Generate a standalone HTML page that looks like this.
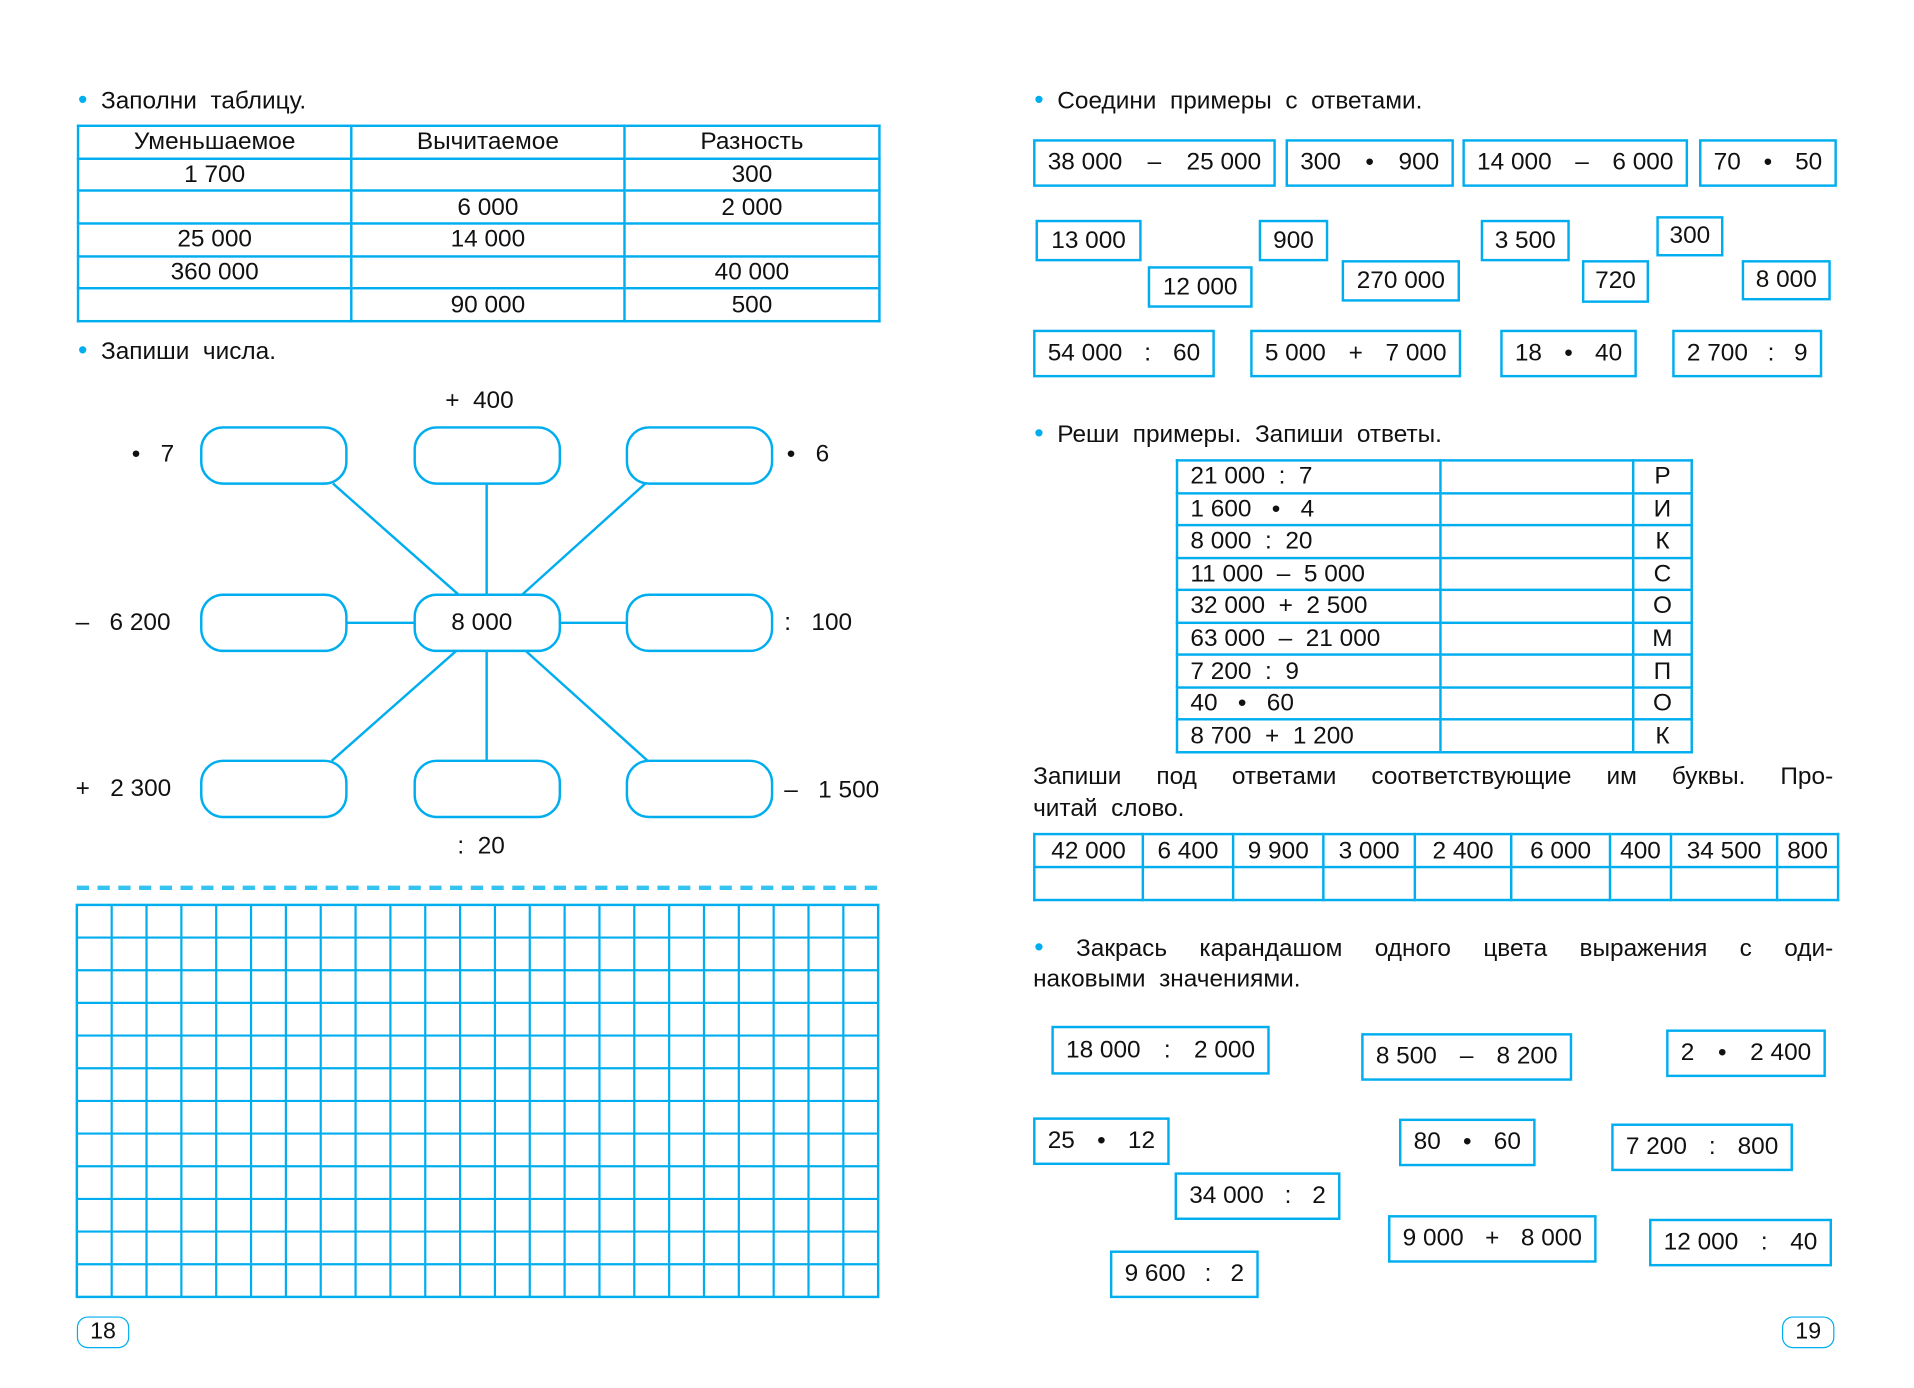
<!DOCTYPE html>
<html><head><meta charset="utf-8">
<style>
html,body{margin:0;padding:0;background:#fff;}
body{width:1914px;height:1388px;overflow:hidden;position:relative;}
#c{position:absolute;left:0;top:0;width:1560px;height:1131px;transform:scale(1.2197,1.2212);transform-origin:0 0;font-family:"Liberation Sans",sans-serif;color:#111;font-size:20px;}
.t{position:absolute;white-space:nowrap;line-height:1;transform:translateY(-50%);}
.bul{color:#00aeef;font-size:22px;}
.b{position:absolute;border:2px solid #00aeef;box-sizing:border-box;display:flex;align-items:center;justify-content:space-between;padding:0 10px;font-size:20px;white-space:nowrap;}
.bc{justify-content:center;}
table{position:absolute;border-collapse:collapse;font-size:20px;table-layout:fixed;}
td{border:2px solid #00aeef;padding:0;line-height:1;white-space:nowrap;}
.pg{position:absolute;border:1.5px solid #00aeef;border-radius:9px;box-sizing:border-box;display:flex;align-items:center;justify-content:center;font-size:19px;}
</style></head><body><div id="c">

<!-- LEFT PAGE -->
<div class="t" style="left:64px;top:82px;"><span class="bul">•</span>&nbsp; Заполни&nbsp; таблицу.</div>
<table style="left:63px;top:102px;width:657px;height:162px;text-align:center;">
<colgroup><col style="width:224px"><col style="width:224px"><col style="width:209px"></colgroup>
<tr><td>Уменьшаемое</td><td>Вычитаемое</td><td>Разность</td></tr>
<tr><td>1 700</td><td></td><td>300</td></tr>
<tr><td></td><td>6 000</td><td>2 000</td></tr>
<tr><td>25 000</td><td>14 000</td><td></td></tr>
<tr><td>360 000</td><td></td><td>40 000</td></tr>
<tr><td></td><td>90 000</td><td>500</td></tr>
</table>
<div class="t" style="left:64px;top:287px;"><span class="bul">•</span>&nbsp; Запиши&nbsp; числа.</div>

<svg style="position:absolute;left:0;top:0" width="780" height="1131">
<g stroke="#00aeef" stroke-width="2" fill="none">
<line x1="273" y1="396" x2="376" y2="487"/>
<line x1="399" y1="396" x2="399" y2="487"/>
<line x1="529" y1="396" x2="428" y2="487"/>
<line x1="284" y1="510" x2="340" y2="510"/>
<line x1="459" y1="510" x2="514" y2="510"/>
<line x1="374" y1="533" x2="272" y2="623"/>
<line x1="399" y1="533" x2="399" y2="623"/>
<line x1="431" y1="533" x2="531" y2="623"/>
<rect x="165" y="350" width="119" height="46" rx="18"/>
<rect x="340" y="350" width="119" height="46" rx="18"/>
<rect x="514" y="350" width="119" height="46" rx="18"/>
<rect x="165" y="487" width="119" height="46" rx="18"/>
<rect x="340" y="487" width="119" height="46" rx="18" fill="#fff"/>
<rect x="514" y="487" width="119" height="46" rx="18"/>
<rect x="165" y="623" width="119" height="46" rx="18"/>
<rect x="340" y="623" width="119" height="46" rx="18"/>
<rect x="514" y="623" width="119" height="46" rx="18"/>
<line x1="63" y1="727" x2="720" y2="727" stroke-width="3.5" stroke-dasharray="10,7" stroke="#33c3f0"/>
</g>
<g stroke="#00aeef" stroke-width="2">
<rect x="63" y="741" width="657" height="321" fill="none"/>
</g>
<g id="grid" stroke="#00aeef" stroke-width="1.8"></g>
</svg>
<div class="t" style="left:370px;top:510px;font-size:20px;">8 000</div>
<div class="t" style="left:365px;top:328px;">+&nbsp; 400</div>
<div class="t" style="left:108px;top:372px;">•&nbsp;&nbsp; 7</div>
<div class="t" style="left:645px;top:372px;">•&nbsp;&nbsp; 6</div>
<div class="t" style="left:62px;top:510px;">–&nbsp;&nbsp; 6 200</div>
<div class="t" style="left:643px;top:510px;">:&nbsp;&nbsp; 100</div>
<div class="t" style="left:62px;top:646px;">+&nbsp;&nbsp; 2 300</div>
<div class="t" style="left:643px;top:647px;">–&nbsp;&nbsp; 1 500</div>
<div class="t" style="left:375px;top:693px;">:&nbsp; 20</div>
<div class="pg" style="left:63px;top:1078px;width:43px;height:26px;">18</div>

<!-- RIGHT PAGE -->
<div class="t" style="left:848px;top:82px;"><span class="bul">•</span>&nbsp; Соедини&nbsp; примеры&nbsp; с&nbsp; ответами.</div>
<div class="b" style="left:847px;top:114px;width:199px;height:39px;"><span>38 000</span><span>–</span><span>25 000</span></div>
<div class="b" style="left:1054px;top:114px;width:138px;height:39px;"><span>300</span><span>•</span><span>900</span></div>
<div class="b" style="left:1199px;top:114px;width:185px;height:39px;"><span>14 000</span><span>–</span><span>6 000</span></div>
<div class="b" style="left:1393px;top:114px;width:113px;height:39px;"><span>70</span><span>•</span><span>50</span></div>
<div class="b bc" style="left:849px;top:180px;width:87px;height:34px;">13 000</div>
<div class="b bc" style="left:1032px;top:180px;width:57px;height:34px;">900</div>
<div class="b bc" style="left:1214px;top:180px;width:73px;height:34px;">3 500</div>
<div class="b bc" style="left:1358px;top:177px;width:55px;height:33px;">300</div>
<div class="b bc" style="left:941px;top:218px;width:86px;height:34px;">12 000</div>
<div class="b bc" style="left:1100px;top:213px;width:97px;height:34px;">270 000</div>
<div class="b bc" style="left:1297px;top:213px;width:55px;height:35px;">720</div>
<div class="b bc" style="left:1428px;top:213px;width:73px;height:33px;">8 000</div>
<div class="b" style="left:847px;top:270px;width:149px;height:39px;"><span>54 000</span><span>:</span><span>60</span></div>
<div class="b" style="left:1025px;top:270px;width:173px;height:39px;"><span>5 000</span><span>+</span><span>7 000</span></div>
<div class="b" style="left:1230px;top:270px;width:112px;height:39px;"><span>18</span><span>•</span><span>40</span></div>
<div class="b" style="left:1371px;top:270px;width:123px;height:39px;"><span>2 700</span><span>:</span><span>9</span></div>

<div class="t" style="left:848px;top:355px;"><span class="bul">•</span>&nbsp; Реши&nbsp; примеры.&nbsp; Запиши&nbsp; ответы.</div>
<table style="left:964px;top:376px;width:422px;height:241px;">
<colgroup><col style="width:216px"><col style="width:158px"><col style="width:48px"></colgroup>
<tr><td style="padding-left:10px">21 000&nbsp; :&nbsp; 7</td><td></td><td style="text-align:center">Р</td></tr>
<tr><td style="padding-left:10px">1 600&nbsp;&nbsp; •&nbsp;&nbsp; 4</td><td></td><td style="text-align:center">И</td></tr>
<tr><td style="padding-left:10px">8 000&nbsp; :&nbsp; 20</td><td></td><td style="text-align:center">К</td></tr>
<tr><td style="padding-left:10px">11 000&nbsp; –&nbsp; 5 000</td><td></td><td style="text-align:center">С</td></tr>
<tr><td style="padding-left:10px">32 000&nbsp; +&nbsp; 2 500</td><td></td><td style="text-align:center">О</td></tr>
<tr><td style="padding-left:10px">63 000&nbsp; –&nbsp; 21 000</td><td></td><td style="text-align:center">М</td></tr>
<tr><td style="padding-left:10px">7 200&nbsp; :&nbsp; 9</td><td></td><td style="text-align:center">П</td></tr>
<tr><td style="padding-left:10px">40&nbsp;&nbsp; •&nbsp;&nbsp; 60</td><td></td><td style="text-align:center">О</td></tr>
<tr><td style="padding-left:10px">8 700&nbsp; +&nbsp; 1 200</td><td></td><td style="text-align:center">К</td></tr>
</table>
<div class="t" style="left:847px;top:636px;width:656px;text-align:justify;text-align-last:justify;">Запиши под ответами соответствующие им буквы. Про-</div>
<div class="t" style="left:847px;top:662px;">читай&nbsp; слово.</div>
<table style="left:847px;top:682px;width:659px;height:54px;text-align:center;">
<colgroup><col style="width:89px"><col style="width:74px"><col style="width:74px"><col style="width:75px"><col style="width:79px"><col style="width:81px"><col style="width:50px"><col style="width:87px"><col style="width:50px"></colgroup>
<tr style="height:27px"><td>42 000</td><td>6 400</td><td>9 900</td><td>3 000</td><td>2 400</td><td>6 000</td><td>400</td><td>34 500</td><td>800</td></tr>
<tr style="height:27px"><td></td><td></td><td></td><td></td><td></td><td></td><td></td><td></td><td></td></tr>
</table>

<div class="t" style="left:848px;top:776px;width:655px;text-align:justify;text-align-last:justify;"><span class="bul">•</span> Закрась карандашом одного цвета выражения с оди-</div>
<div class="t" style="left:847px;top:802px;">наковыми&nbsp; значениями.</div>
<div class="b" style="left:862px;top:840px;width:179px;height:40px;"><span>18 000</span><span>:</span><span>2 000</span></div>
<div class="b" style="left:1116px;top:846px;width:173px;height:39px;"><span>8 500</span><span>–</span><span>8 200</span></div>
<div class="b" style="left:1366px;top:843px;width:131px;height:39px;"><span>2</span><span>•</span><span>2 400</span></div>
<div class="b" style="left:847px;top:915px;width:112px;height:39px;"><span>25</span><span>•</span><span>12</span></div>
<div class="b" style="left:1147px;top:916px;width:112px;height:39px;"><span>80</span><span>•</span><span>60</span></div>
<div class="b" style="left:1321px;top:920px;width:149px;height:39px;"><span>7 200</span><span>:</span><span>800</span></div>
<div class="b" style="left:963px;top:960px;width:136px;height:39px;"><span>34 000</span><span>:</span><span>2</span></div>
<div class="b" style="left:1138px;top:995px;width:171px;height:39px;"><span>9 000</span><span>+</span><span>8 000</span></div>
<div class="b" style="left:1352px;top:998px;width:150px;height:39px;"><span>12 000</span><span>:</span><span>40</span></div>
<div class="b" style="left:910px;top:1024px;width:122px;height:39px;"><span>9 600</span><span>:</span><span>2</span></div>
<div class="pg" style="left:1461px;top:1078px;width:43px;height:26px;">19</div>

</div>
<script>
var g=document.getElementById('grid'),s='';
var x0=63,x1=720,y0=741,y1=1062;
for(var i=1;i<23;i++){var x=x0+(x1-x0)*i/23;s+='<line x1="'+x+'" y1="'+y0+'" x2="'+x+'" y2="'+y1+'"/>';}
for(var j=1;j<12;j++){var y=y0+(y1-y0)*j/12;s+='<line x1="'+x0+'" y1="'+y+'" x2="'+x1+'" y2="'+y+'"/>';}
g.innerHTML=s;
</script>
</body></html>
